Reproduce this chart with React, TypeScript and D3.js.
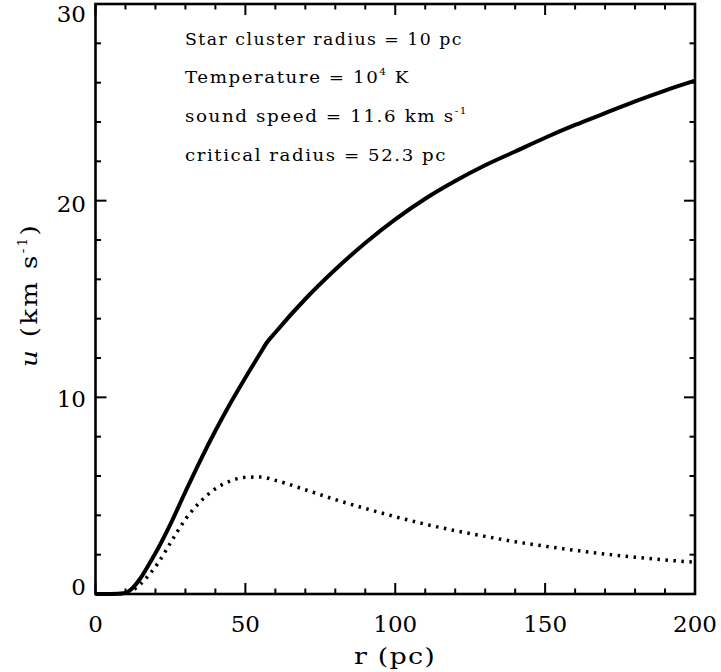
import React from 'react';
import * as d3 from 'd3';

// radius r (pc) and flow velocity u (km/s), solid curve
const solidR = [0, 5, 10, 12, 15, 18, 21, 25, 30, 35, 40, 45, 50, 55, 57, 60, 70, 80, 90, 100, 110, 120, 130, 140, 150, 160, 170, 180, 190, 200];
const solidU = [0, 0, 0.05, 0.25, 0.8, 1.55, 2.35, 3.55, 5.2, 6.8, 8.3, 9.7, 11.0, 12.25, 12.75, 13.3, 15.0, 16.5, 17.85, 19.05, 20.1, 21.0, 21.8, 22.5, 23.2, 23.85, 24.45, 25.05, 25.6, 26.1];

// dotted curve
const dottedR = [0, 10, 12, 15, 18, 21, 25, 30, 35, 40, 45, 50, 55, 60, 70, 80, 90, 100, 110, 120, 130, 140, 150, 160, 170, 180, 190, 200];
const dottedU = [0, 0.02, 0.15, 0.5, 1.0, 1.6, 2.6, 3.8, 4.7, 5.35, 5.75, 5.93, 5.95, 5.78, 5.3, 4.8, 4.35, 3.93, 3.55, 3.22, 2.93, 2.66, 2.43, 2.22, 2.03, 1.87, 1.73, 1.62];

const xMajor = [0, 50, 100, 150, 200];
const yMajor = [0, 10, 20, 30];
const yLabelShift = [-7, 2, 3.5, 9.5];

const W = 721;
const H = 672;
const L = 95.5, R = 695, T = 4, B = 594;
const FONT = '"DejaVu Serif", "Liberation Serif", serif';

export default function App() {
  const x = d3.scaleLinear().domain([0, 200]).range([L, R]);
  const y = d3.scaleLinear().domain([0, 30]).range([B, T]);

  const line = d3.line<[number, number]>()
    .x(d => x(d[0]))
    .y(d => y(d[1]))
    .curve(d3.curveMonotoneX);

  const solidPts: [number, number][] = solidR.map((r, i) => [r, solidU[i]]);
  const dottedPts: [number, number][] = dottedR.map((r, i) => [r, dottedU[i]]);

  const xMinor = d3.range(0, 201, 10);
  const yMinor = d3.range(0, 31, 2);
  const MAJ = 11, MIN = 5.5;

  return (
    <svg width={W} height={H} style={{ position: 'fixed', left: 0, top: 0, background: '#fff' }}
      fontFamily={FONT}>
      <rect x={0} y={0} width={W} height={H} fill="#fff" />
      {/* curves */}
      <path d={line(dottedPts) || ''} fill="none" stroke="#000" strokeWidth={3.5} strokeDasharray="2.5,5.5" />
      <path d={line(solidPts) || ''} fill="none" stroke="#000" strokeWidth={4} strokeLinejoin="round" />

      {/* x ticks bottom & top */}
      {xMinor.map(v => {
        const len = v % 50 === 0 ? MAJ : MIN;
        return (
          <g key={'xt' + v}>
            <line x1={x(v)} x2={x(v)} y1={B} y2={B - len} stroke="#000" strokeWidth={2} />
            <line x1={x(v)} x2={x(v)} y1={T} y2={T + len} stroke="#000" strokeWidth={2} />
          </g>
        );
      })}
      {yMinor.map(v => {
        const len = v % 10 === 0 ? MAJ : MIN;
        return (
          <g key={'yt' + v}>
            <line x1={L} x2={L + len} y1={y(v)} y2={y(v)} stroke="#000" strokeWidth={2} />
            <line x1={R} x2={R - len} y1={y(v)} y2={y(v)} stroke="#000" strokeWidth={2} />
          </g>
        );
      })}
      <rect x={L} y={T} width={R - L} height={B - T} fill="none" stroke="#000" strokeWidth={2.6} />

      {/* tick labels */}
      {xMajor.map(v => (
        <text key={'xl' + v} x={x(v)} y={632} textAnchor="middle" fontSize={23} fill="#000">{v}</text>
      ))}
      {yMajor.map((v, i) => (
        <text key={'yl' + v} x={86} y={y(v) + yLabelShift[i]} textAnchor="end" dominantBaseline="central"
          fontSize={23} fill="#000">{v}</text>
      ))}

      {/* axis titles */}
      <text x={354} y={664} textLength={82} lengthAdjust="spacingAndGlyphs" letterSpacing={1} fontSize={23} fill="#000">r (pc)</text>
      <text transform={`translate(37,367) rotate(-90)`} textLength={144} lengthAdjust="spacingAndGlyphs" letterSpacing={2}
        fontSize={23} fill="#000">
        <tspan fontStyle="italic">u</tspan> (km s<tspan fontSize={12} dy={-10}>-1</tspan><tspan dy={10}>)</tspan>
      </text>

      {/* annotations */}
      <g fontSize={17.5} fill="#000" letterSpacing={1.5}>
        <text x={185} y={45} textLength={278} lengthAdjust="spacingAndGlyphs">Star cluster radius = 10 pc</text>
        <text x={185} y={83} textLength={225} lengthAdjust="spacingAndGlyphs">Temperature = 10<tspan fontSize={10} dy={-8}>4</tspan><tspan dy={8}> K</tspan></text>
        <text x={185} y={122} textLength={283} lengthAdjust="spacingAndGlyphs">sound speed = 11.6 km s<tspan fontSize={10} dy={-8}>-1</tspan></text>
        <text x={185} y={161} textLength={262} lengthAdjust="spacingAndGlyphs">critical radius = 52.3 pc</text>
      </g>
    </svg>
  );
}
